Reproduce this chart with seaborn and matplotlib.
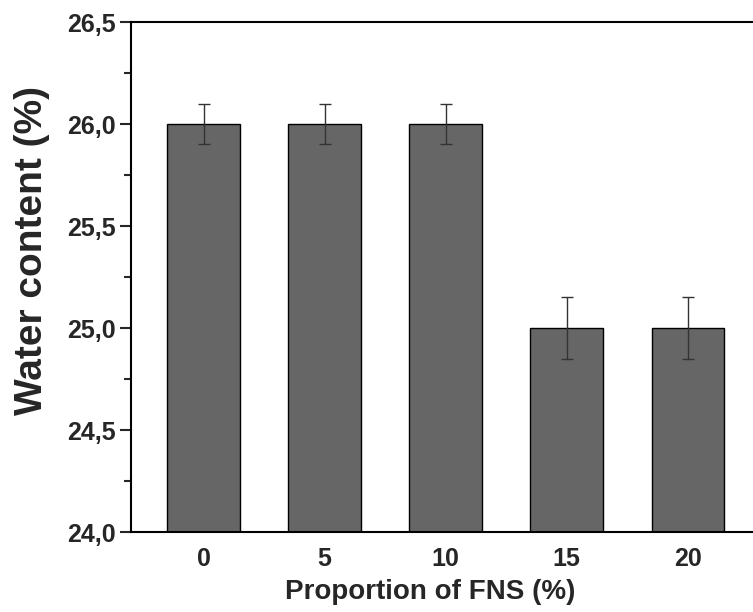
import matplotlib
matplotlib.use("Agg")
import matplotlib.pyplot as plt
import seaborn as sns
import pandas as pd
from matplotlib.ticker import FuncFormatter, MultipleLocator

categories = ["0", "5", "10", "15", "20"]
water = [26.0, 26.0, 26.0, 25.0, 25.0]
errors = [0.1, 0.1, 0.1, 0.15, 0.15]

sns.set_theme(style="ticks")
plt.rcParams['font.family'] = ['Liberation Sans', 'DejaVu Sans']

df = pd.DataFrame({"FNS": categories, "Water": water})

W, H = 753, 612
fig = plt.figure(figsize=(W / 100, H / 100), dpi=100)
left, right, top, bottom = 131, 760.5, 22, 532
ax = fig.add_axes([left / W, (H - bottom) / H, (right - left) / W, (bottom - top) / H])

sns.barplot(data=df, x="FNS", y="Water", order=categories, color="#666666",
            saturation=1, width=0.6, edgecolor="black", linewidth=1.0,
            errorbar=None, ax=ax)
ax.errorbar(range(len(categories)), water, yerr=errors, fmt="none",
            ecolor="#333333", elinewidth=1.0, capsize=4, capthick=1.0)

ax.set_ylim(24.0, 26.5)
ax.set_xlim(-0.6, 4.6)
ax.yaxis.set_major_locator(MultipleLocator(0.5))
ax.yaxis.set_minor_locator(MultipleLocator(0.25))
ax.yaxis.set_major_formatter(FuncFormatter(lambda v, p: f"{v:.1f}".replace(".", ",")))

for s in ax.spines.values():
    s.set_linewidth(1.5)
    s.set_color("black")

ax.tick_params(axis="y", which="major", direction="out", length=8, width=1.5, labelsize=18, pad=3)
ax.tick_params(axis="y", which="minor", direction="out", length=5, width=1.5)
ax.tick_params(axis="x", which="major", length=0, labelsize=18, pad=11)
for lab in ax.get_xticklabels() + ax.get_yticklabels():
    lab.set_fontweight("bold")

ax.set_xlabel("Proportion of FNS (%)", fontsize=20, fontweight="bold")
ax.set_ylabel("Water content (%)", fontsize=28, fontweight="bold")
ax.xaxis.set_label_coords(0.475, -0.093)
ax.yaxis.set_label_coords(-0.129, 0.551)

fig.savefig("out.png", dpi=100)
